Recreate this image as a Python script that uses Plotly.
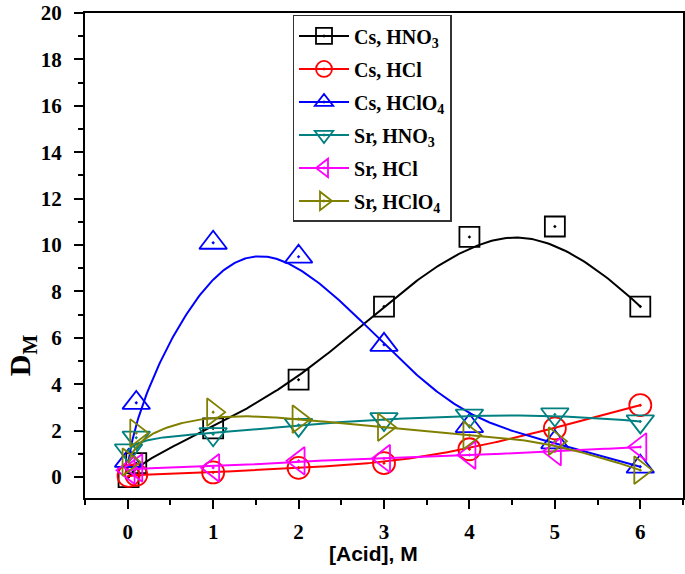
import numpy as np
import plotly.graph_objects as go

# ---- data ----
acid = [0.01, 0.1, 1, 2, 3, 4, 5, 6]
cs_hno3 = [0.0, 0.6, 2.1, 4.2, 7.35, 10.35, 10.8, 7.35]
cs_hcl = [0.05, 0.1, 0.2, 0.4, 0.6, 1.2, 2.1, 3.1]
cs_hclo4 = [0.7, 3.2, 10.1, 9.5, 5.7, 2.2, 1.5, 0.45]
sr_hno3 = [1.15, 1.7, 1.85, 2.25, 2.5, 2.65, 2.7, 2.4]
sr_hcl = [0.3, 0.4, 0.4, 0.7, 0.8, 0.95, 1.1, 1.3]
sr_hclo4 = [0.65, 1.9, 2.8, 2.5, 2.15, 1.8, 1.55, 0.3]

names = ["Cs, HNO<sub>3</sub>", "Cs, HCl", "Cs, HClO<sub>4</sub>",
         "Sr, HNO<sub>3</sub>", "Sr, HCl", "Sr, HClO<sub>4</sub>"]
series = [cs_hno3, cs_hcl, cs_hclo4, sr_hno3, sr_hcl, sr_hclo4]
colors = ["#000000", "#FF0000", "#0000FF", "#008080", "#FF00FF", "#808000"]
symbols = ["square-open-dot", "circle-open-dot", "triangle-up-open-dot",
           "triangle-down-open-dot", "triangle-left-open-dot", "triangle-right-open-dot"]
sizes = [20, 22, 24, 24, 24, 24]


def bspline(xs, ys, n=300, k=3):
    P = np.column_stack([xs, ys]).astype(float)
    m = len(P)
    knots = np.concatenate([np.zeros(k), np.linspace(0, 1, m - k + 1), np.ones(k)])
    t = np.linspace(0, 1, n)
    nb = len(knots) - 1
    N = np.zeros((n, nb))
    for i in range(nb):
        N[:, i] = (knots[i] <= t) & (t < knots[i + 1])
    last = max(i for i in range(nb) if knots[i] < knots[i + 1])
    N[t >= 1, :] = 0
    N[t >= 1, last] = 1
    for d in range(1, k + 1):
        Nn = np.zeros((n, nb - d))
        for i in range(nb - d):
            a = np.zeros(n)
            b = np.zeros(n)
            den1 = knots[i + d] - knots[i]
            den2 = knots[i + d + 1] - knots[i + 1]
            if den1 > 0:
                a = (t - knots[i]) / den1 * N[:, i]
            if den2 > 0:
                b = (knots[i + d + 1] - t) / den2 * N[:, i + 1]
            Nn[:, i] = a + b
        N = Nn
    C = N @ P
    return C[:, 0], C[:, 1]


fig = go.Figure()
for nm, ys, col, sym, sz in zip(names, series, colors, symbols, sizes):
    cx, cy = bspline(acid, ys)
    fig.add_trace(go.Scatter(x=cx, y=cy, mode="lines", line=dict(color=col, width=2),
                             showlegend=False, hoverinfo="skip"))
    fig.add_trace(go.Scatter(x=acid, y=ys, mode="markers", showlegend=False,
                             marker=dict(symbol=sym, size=sz, color=col,
                                         line=dict(color=col, width=1.8))))
    fig.add_trace(go.Scatter(x=[None], y=[None], mode="lines+markers", name=nm,
                             legendgroup=nm,
                             line=dict(color=col, width=2),
                             marker=dict(symbol=sym, size=sz, color=col,
                                         line=dict(color=col, width=1.8))))

axis_common = dict(showline=True, linecolor="black", linewidth=2, mirror=True,
                   ticks="outside", ticklen=9, tickwidth=2, tickcolor="black",
                   showgrid=False, zeroline=False, automargin=False,
                   tickfont=dict(family="Liberation Serif", size=21, color="black", weight="bold"))

fig.update_xaxes(range=[-0.5, 6.5], tickvals=[0, 1, 2, 3, 4, 5, 6], ticklabelstandoff=5,
                 minor=dict(dtick=0.5, tick0=0, ticks="outside", ticklen=5, tickwidth=2, tickcolor="black"),
                 **axis_common)
fig.update_yaxes(range=[-0.9, 20], tickvals=list(range(0, 21, 2)), ticklabelstandoff=8,
                 minor=dict(dtick=1, tick0=0, ticks="outside", ticklen=5, tickwidth=2, tickcolor="black"),
                 **axis_common)

fig.add_annotation(text="D<sub>M</sub>", xref="paper", yref="paper", x=-0.105, y=0.295,
                   textangle=-90, showarrow=False, xanchor="center", yanchor="middle",
                   font=dict(family="Liberation Serif", size=30, color="black", weight="bold"))
fig.add_annotation(text="[Acid], M", xref="paper", yref="paper", x=0.483, y=-0.115,
                   showarrow=False, xanchor="center", yanchor="middle",
                   font=dict(family="Liberation Sans", size=21, color="black", weight="bold"))

fig.update_layout(
    width=685, height=574,
    margin=dict(l=85, r=2, t=13, b=76, autoexpand=False),
    plot_bgcolor="white", paper_bgcolor="white",
    legend=dict(x=0.347, y=0.996, xanchor="left", yanchor="top",
                bgcolor="white", bordercolor="#333333", borderwidth=1.5,
                font=dict(family="Liberation Serif", size=20, color="black", weight="bold"),
                itemwidth=50, tracegroupgap=4, itemsizing="trace"),
)

fig.write_html("out.html", config={"displayModeBar": False},
               post_script="document.body.style.margin='0';document.body.style.overflow='hidden';")
